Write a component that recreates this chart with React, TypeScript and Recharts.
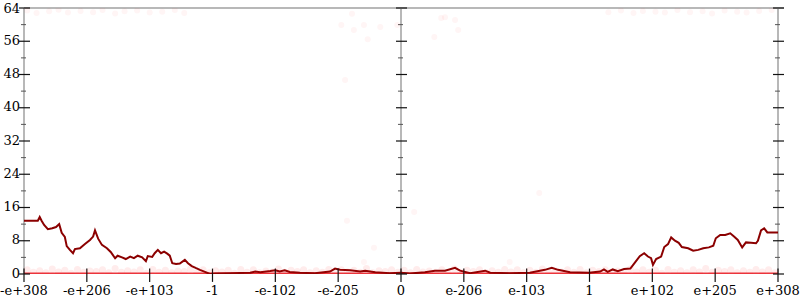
import { ComposedChart, Line, Scatter, XAxis, YAxis, ReferenceLine } from "recharts";

// x positions are in tick units: -6 = -e+308 ... 0 ... 6 = e+308
const X_TICKS = [-6, -5, -4, -3, -2, -1, 0, 1, 2, 3, 4, 5, 6];
const X_LABELS = ["-e+308", "-e+206", "-e+103", "-1", "-e-102", "-e-205", "0", "e-206", "e-103", "1", "e+102", "e+205", "e+308"];
const Y_MAJOR = [0, 8, 16, 24, 32, 40, 48, 56, 64];
const Y_MINOR = [4, 12, 20, 28, 36, 44, 52, 60];
const AXIS_X = [-6, 0, 6];

const lineX = [
  -6.0, -5.78, -5.75, -5.72, -5.68, -5.62, -5.55, -5.49, -5.44, -5.4, -5.35, -5.32, -5.27, -5.22, -5.19, -5.11,
  -5.03, -4.95, -4.9, -4.87, -4.82, -4.76, -4.68, -4.62, -4.55, -4.51, -4.44, -4.38, -4.31, -4.25, -4.19, -4.12,
  -4.06, -4.03, -3.96, -3.92, -3.87, -3.82, -3.77, -3.72, -3.68, -3.64, -3.58, -3.52, -3.44, -3.39, -3.33, -3.26,
  -3.2, -3.12, -3.04, -2.96, -2.72, -2.4, -2.32, -2.24, -2.08, -2.0, -1.93, -1.85, -1.77, -1.61, -1.37, -1.13,
  -1.05, -0.97, -0.81, -0.65, -0.57, -0.41, -0.18, 0, 0.14, 0.38, 0.54, 0.7, 0.86, 0.94, 1.1, 1.34, 1.42, 1.73,
  2.05, 2.29, 2.4, 2.5, 2.69, 2.99, 3.17, 3.23, 3.29, 3.37, 3.45, 3.55, 3.65, 3.71, 3.8, 3.87, 3.93, 3.98, 4.01,
  4.06, 4.14, 4.19, 4.25, 4.3, 4.36, 4.42, 4.47, 4.57, 4.65, 4.73, 4.81, 4.9, 4.97, 5.01, 5.08, 5.16, 5.24, 5.3,
  5.36, 5.43, 5.49, 5.57, 5.65, 5.68, 5.73, 5.78, 5.83, 6.0,
];
const lineY = [
  12.8, 12.8, 13.7, 12.8, 11.8, 10.8, 11.0, 11.3, 12.0, 9.9, 8.9, 6.7, 5.8, 5.0, 6.0, 6.2,
  7.2, 8.2, 9.0, 10.5, 8.5, 7.0, 6.2, 5.3, 3.8, 4.4, 4.0, 3.6, 4.2, 3.8, 4.4, 4.0,
  3.1, 4.3, 4.1, 5.0, 5.8, 5.0, 5.4, 4.9, 4.4, 2.6, 2.4, 2.5, 3.4, 2.6, 1.9, 1.4,
  1.0, 0.5, 0.0, 0.1, 0.2, 0.3, 0.6, 0.4, 0.7, 0.9, 0.6, 0.9, 0.5, 0.3, 0.2, 0.6,
  1.3, 1.0, 0.9, 0.6, 0.8, 0.4, 0.2, 0.3, 0.1, 0.4, 0.8, 0.8, 1.5, 0.8, 0.2, 0.8, 0.3, 0.2,
  0.3, 1.0, 1.5, 1.0, 0.4, 0.3, 0.6, 1.1, 0.5, 1.1, 0.7, 1.2, 1.3, 2.5, 4.3, 5.0, 4.2, 3.8, 2.2,
  3.6, 4.2, 6.5, 7.2, 8.8, 8.0, 7.5, 6.5, 6.2, 5.6, 5.8, 6.2, 6.4, 6.8, 8.6, 9.4, 9.4, 9.8, 9.0,
  8.2, 6.4, 7.6, 7.5, 7.4, 8.0, 10.5, 11.0, 10.0, 10.0,
];

const zeroX = [-6, 6];
const zeroY = [0, 0];

const lowX = [
  -5.95, -5.75, -5.55, -5.35, -5.15, -4.95, -4.75, -4.55, -4.35, -4.15, -3.95, -3.75, -3.55, -3.35, -3.15,
  -2.95, -2.75, -2.55, -2.35, -2.15, -1.95, -1.75, -1.55, -1.35, -1.15, -0.95, -0.75, -0.55, -0.35, -0.15,
  0.05, 0.25, 0.45, 0.65, 0.85, 1.05, 1.25, 1.45, 1.65, 1.85, 2.05, 2.25, 2.45, 2.65, 2.85,
  3.05, 3.25, 3.45, 3.65, 3.85, 4.05, 4.25, 4.45, 4.65, 4.85, 5.05, 5.25, 5.45, 5.65, 5.85,
  -5.85, -5.65, -5.45, -5.25, -5.05, -4.85, -4.65, -4.45, -4.25, -4.05, -3.85, -3.65, -3.45, -3.25, -3.05,
  -2.85, -2.65, -2.45, -2.25, -2.05, -1.85, -1.65, -1.45, -1.25, -1.05, -0.85, -0.65, -0.45, -0.25, -0.05,
  0.15, 0.35, 0.55, 0.75, 0.95, 1.15, 1.35, 1.55, 1.75, 1.95, 2.15, 2.35, 2.55, 2.75, 2.95,
  3.15, 3.35, 3.55, 3.75, 3.95, 4.15, 4.35, 4.55, 4.75, 4.95, 5.15, 5.35, 5.55, 5.75, 5.95,
];
const lowY = [
  1.0, 0.8, 1.2, 0.9, 1.1, 0.7, 1.0, 1.3, 0.8, 1.0, 1.1, 0.9, 0.7, 1.2, 1.0,
  0.8, 0.9, 1.1, 1.0, 0.7, 1.2, 0.9, 1.0, 0.8, 1.1, 1.0, 0.9, 1.3, 0.8, 1.0,
  0.9, 1.1, 0.7, 1.0, 1.2, 0.9, 1.0, 0.8, 1.1, 1.0, 0.9, 1.2, 0.8, 1.0, 1.1,
  0.9, 1.0, 0.7, 1.2, 1.0, 0.9, 1.1, 0.8, 1.0, 1.3, 0.9, 1.0, 0.8, 1.1, 1.0,
  0.4, 0.3, 0.5, 0.2, 0.4, 0.6, 0.3, 0.4, 0.5, 0.2, 0.4, 0.3, 0.6, 0.4, 0.3,
  0.5, 0.2, 0.4, 0.3, 0.5, 0.4, 0.6, 0.3, 0.4, 0.2, 0.5, 0.4, 0.3, 0.6, 0.4,
  0.3, 0.5, 0.4, 0.2, 0.4, 0.6, 0.3, 0.4, 0.5, 0.3, 0.4, 0.2, 0.5, 0.4, 0.3,
  0.6, 0.4, 0.3, 0.5, 0.4, 0.2, 0.4, 0.3, 0.5, 0.4, 0.6, 0.3, 0.4, 0.5, 0.3,
];

const highX = [
  -5.95, -5.8, -5.6, -5.45, -5.3, -5.1, -4.9, -4.75, -4.55, -4.4, -4.2, -4.0, -3.8, -3.6, -3.45,
  3.3, 3.5, 3.7, 3.85, 4.05, 4.2, 4.4, 4.6, 4.8, 4.95, 5.15, 5.35, 5.5, 5.7, 5.9,
];
const highY = [
  63.4, 62.8, 63.2, 63.6, 62.9, 63.3, 63.0, 63.5, 62.7, 63.2, 63.4, 62.9, 63.1, 63.5, 62.8,
  63.0, 63.4, 62.8, 63.3, 63.1, 62.9, 63.5, 63.0, 63.2, 62.7, 63.4, 63.1, 62.9, 63.3, 63.5,
];

const midX = [-0.78, -0.95, -0.75, -0.59, -0.33, -0.53, -0.06, -0.89, 0.53, 0.64, 0.7, 0.86, 0.91, -0.86, -0.43, -0.59, 0.21, 2.2, 1.73];
const midY = [62.6, 59.9, 58.7, 59.9, 59.4, 56.5, 59.9, 46.7, 57.0, 61.6, 61.8, 61.1, 58.7, 12.8, 6.3, 2.9, 14.9, 19.5, 2.9];

const zip = (xs: number[], ys: number[]) => xs.map((x, i) => ({ x, y: ys[i] }));

const lineData = zip(lineX, lineY);
const zeroData = zip(zeroX, zeroY);
const lowData = zip(lowX, lowY);
const sparseData = [...zip(highX, highY), ...zip(midX, midY)];

const FONT = "DejaVu Serif";
const GRAY = "#b8b8b8";

const XTick = (props: any) => {
  const { x, y, payload } = props;
  const idx = X_TICKS.indexOf(payload.value);
  return (
    <text x={x} y={y} textAnchor="middle" dominantBaseline="middle" fontFamily={FONT} fontSize={13} fill="#000">
      {X_LABELS[idx]}
    </text>
  );
};

const YTick = (props: any) => {
  const { x, y, payload } = props;
  return (
    <text x={x} y={y} textAnchor="end" dominantBaseline="middle" fontFamily={FONT} fontSize={13} fill="#000">
      {payload.value}
    </text>
  );
};

const lowDot = (props: any) => <circle cx={props.cx} cy={props.cy} r={3.5} fill="#ff1010" fillOpacity={0.08} />;
const sparseDot = (props: any) => <circle cx={props.cx} cy={props.cy} r={3} fill="#ff2020" fillOpacity={0.045} />;

export default function App() {
  // one px is about 1/62.8 of an x unit
  const px = 1 / 62.83;
  return (
    <div style={{ position: "absolute", left: 0, top: 0, width: 800, height: 300, background: "#fff" }}>
      <ComposedChart width={800} height={300} margin={{ top: 8, right: 22, left: 0, bottom: 0 }}>
        <XAxis
          type="number"
          dataKey="x"
          domain={[-6, 6]}
          ticks={X_TICKS}
          height={26}
          tickSize={0}
          tickMargin={17}
          axisLine={false}
          tick={<XTick />}
          allowDataOverflow
        />
        <YAxis
          type="number"
          dataKey="y"
          domain={[0, 64]}
          ticks={Y_MAJOR}
          width={24}
          tickSize={0}
          tickMargin={4}
          axisLine={false}
          tick={<YTick />}
          allowDataOverflow
        />
        {AXIS_X.map((ax) => (
          <ReferenceLine key={`ax-${ax}`} x={ax} stroke={GRAY} strokeWidth={2} ifOverflow="visible" />
        ))}
        <ReferenceLine
          segment={[{ x: -6, y: 64 }, { x: 6 + 6 * px, y: 64 }]}
          stroke={GRAY}
          strokeWidth={2}
          ifOverflow="visible"
        />
        <Scatter data={sparseData} shape={sparseDot} isAnimationActive={false} />
        <Scatter data={lowData} shape={lowDot} isAnimationActive={false} />
        <Line
          data={zeroData}
          dataKey="y"
          stroke="#e8141c"
          strokeOpacity={0.85}
          strokeWidth={3}
          dot={false}
          isAnimationActive={false}
        />
        <Line
          data={lineData}
          dataKey="y"
          type="linear"
          stroke="#8b0000"
          strokeWidth={2}
          dot={false}
          isAnimationActive={false}
        />
        {AXIS_X.flatMap((ax) =>
          Y_MAJOR.map((v) => (
            <ReferenceLine
              key={`maj-${ax}-${v}`}
              segment={[{ x: ax - 5 * px, y: v }, { x: ax + 6 * px, y: v }]}
              stroke="#111"
              strokeWidth={1.2}
              ifOverflow="visible"
            />
          ))
        )}
        {AXIS_X.flatMap((ax) =>
          Y_MINOR.map((v) => (
            <ReferenceLine
              key={`min-${ax}-${v}`}
              segment={[{ x: ax - 3 * px, y: v }, { x: ax + 2 * px, y: v }]}
              stroke="#555"
              strokeWidth={1}
              ifOverflow="visible"
            />
          ))
        )}
        {X_TICKS.map((t) => (
          <ReferenceLine
            key={`xt-${t}`}
            segment={[{ x: t, y: -1.9 }, { x: t, y: 1.3 }]}
            stroke="#111"
            strokeWidth={1.2}
            ifOverflow="visible"
          />
        ))}
      </ComposedChart>
    </div>
  );
}
